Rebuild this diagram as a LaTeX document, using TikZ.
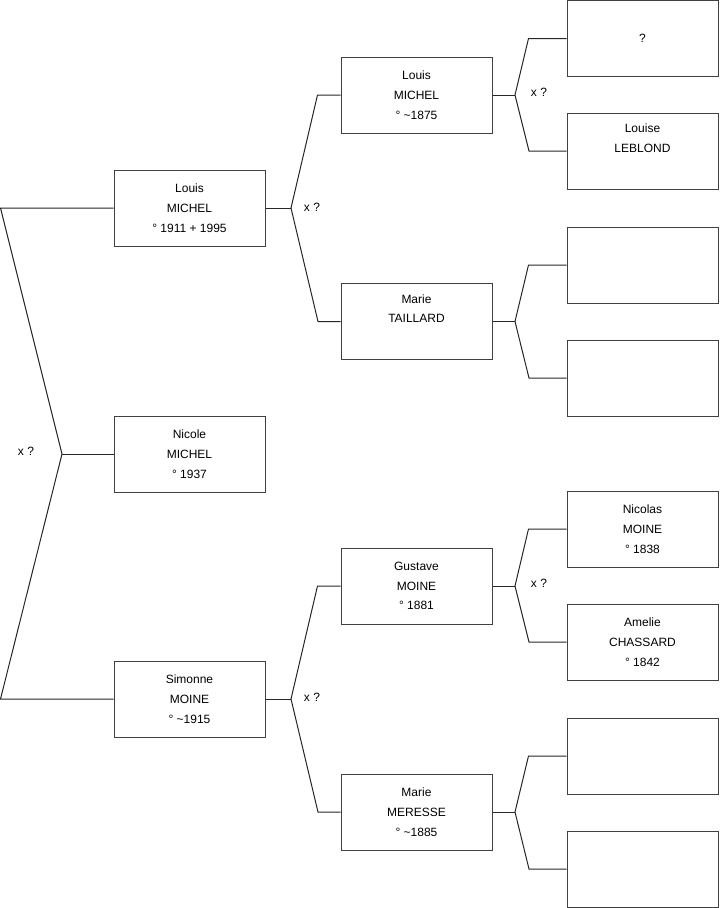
\documentclass[tikz,border=0pt]{standalone}
\usepackage{fontspec}
\setmainfont{Liberation Sans}
\begin{document}
\begin{tikzpicture}[x=0.75pt,y=-0.75pt,
  person/.style={draw=black!75,line width=0.75pt,minimum width=151*0.75pt,minimum height=76*0.75pt,inner sep=0pt,align=center,font=\fontsize{9}{14.8}\selectfont},
  link/.style={draw=black!85,line width=0.75pt},
  marr/.style={font=\fontsize{9}{11}\selectfont,inner sep=0pt}]
\useasboundingbox (0,0) rectangle (719,908);
% generation 1
\node[person] (n1) at (189.5,454) {Nicole\\MICHEL\\° 1937};
% generation 2
\node[person] (l1) at (189.5,208) {Louis\\MICHEL\\° 1911 + 1995};
\node[person] (s1) at (189.5,699) {Simonne\\MOINE\\° \textasciitilde1915};
% generation 3
\node[person] (g1) at (416.5,95) {Louis\\MICHEL\\° \textasciitilde1875};
\node[person] (g2) at (416.5,321.5) {Marie\\TAILLARD\\\strut};
\node[person] (g3) at (416.5,586) {Gustave\\MOINE\\° 1881};
\node[person] (g4) at (416.5,812) {Marie\\MERESSE\\° \textasciitilde1885};
% generation 4
\node[person] (r1) at (642.5,38.5) {?};
\node[person] (r2) at (642.5,151) {Louise\\LEBLOND\\\strut};
\node[person] (r3) at (642.5,265) {};
\node[person] (r4) at (642.5,378) {};
\node[person] (r5) at (642.5,529) {Nicolas\\MOINE\\° 1838};
\node[person] (r6) at (642.5,642) {Amelie\\CHASSARD\\° 1842};
\node[person] (r7) at (642.5,756) {};
\node[person] (r8) at (642.5,869) {};
% junction points
\coordinate (a1) at (0.5,208);
\coordinate (a2) at (0.5,699);
\coordinate (j0) at (62,454);
\coordinate (j1) at (291,208);
\coordinate (j2) at (291,699);
\coordinate (j3) at (515,95);
\coordinate (j4) at (515,321.5);
\coordinate (j5) at (515,586);
\coordinate (j6) at (515,812);
% connectors
\draw[link] (l1.west) -- (a1) -- (j0) -- (a2) -- (s1.west);
\draw[link] (j0) -- (n1.west);
\draw[link] (l1.east) -- (j1);
\draw[link] (g1.west) -- ++(-23,0) -- (j1) -- (318,321.5) -- (g2.west);
\draw[link] (s1.east) -- (j2);
\draw[link] (g3.west) -- ++(-23,0) -- (j2) -- (318,812) -- (g4.west);
\draw[link] (g1.east) -- (j3);
\draw[link] (r1.west) -- ++(-38,0) -- (j3) -- (529,151) -- (r2.west);
\draw[link] (g2.east) -- (j4);
\draw[link] (r3.west) -- ++(-38,0) -- (j4) -- (529,378) -- (r4.west);
\draw[link] (g3.east) -- (j5);
\draw[link] (r5.west) -- ++(-38,0) -- (j5) -- (529,642) -- (r6.west);
\draw[link] (g4.east) -- (j6);
\draw[link] (r7.west) -- ++(-38,0) -- (j6) -- (529,869) -- (r8.west);
% marriage labels
\node[marr] (m0) at (26,451) {x ?};
\node[marr] (m1) at (312,207) {x ?};
\node[marr] (m2) at (312,697) {x ?};
\node[marr] (m3) at (539,92) {x ?};
\node[marr] (m4) at (539,583) {x ?};
\end{tikzpicture}
\end{document}
